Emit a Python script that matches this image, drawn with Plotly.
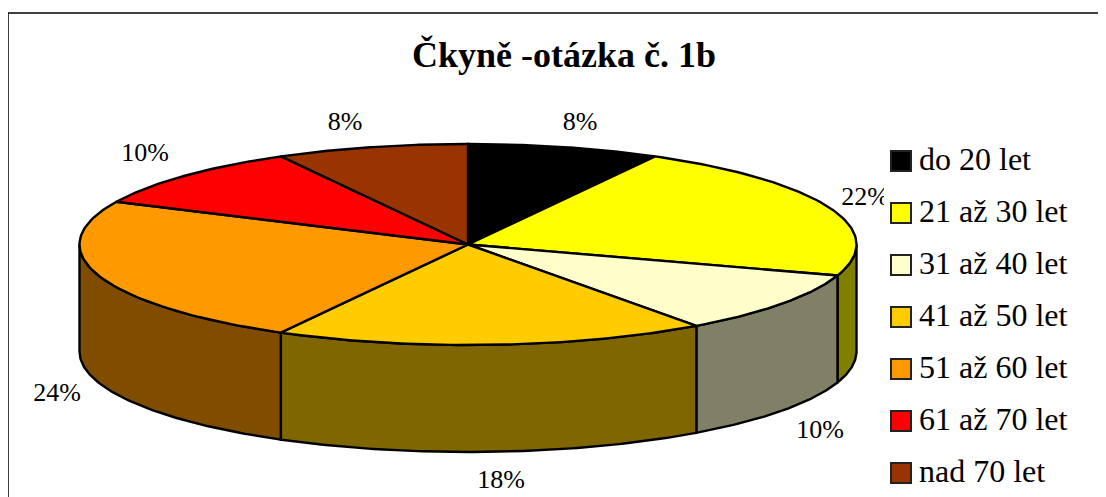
import numpy as np
import plotly.graph_objects as go

CATEGORIES = ["do 20 let", "21 až 30 let", "31 až 40 let", "41 až 50 let",
              "51 až 60 let", "61 až 70 let", "nad 70 let"]
VALUES = [8, 22, 10, 18, 24, 10, 8]
TOP_COLORS = ["#000000", "#ffff00", "#ffffcc", "#ffcc00", "#ff9900", "#ff0000", "#993300"]
SIDE_COLORS = ["#000000", "#808000", "#808066", "#806600", "#804d00", "#800000", "#4d1a00"]
TITLE = "Čkyně -otázka č. 1b"

# Pie geometry in page pixels
CX, CY, RX, RY, DEPTH = 468, 244.5, 388.5, 100.5, 107
LABEL_POS = [(580, 123), (865, 198), (820, 431), (501, 481), (57, 394), (145, 154), (345, 123)]
LEGEND_X, LEGEND_TEXT_X = 901, 919
LEGEND_Y = [161, 213, 265, 317, 369, 421, 473]
LEGEND_TEXT_DY = 1

W, H = 1106, 497
PAGE_MARGIN = 8  # the page body offsets the figure
edges = np.cumsum([0] + VALUES) / sum(VALUES) * 2 * np.pi


def rim(a0, a1, n=80):
    t = np.linspace(a0, a1, n)
    return CX + RX * np.sin(t), CY - RY * np.cos(t)


fig = go.Figure()
LINE = dict(color="black", width=2.4)


def poly(x, y, color):
    fig.add_trace(go.Scatter(x=x, y=y, mode="lines", fill="toself", fillcolor=color,
                             line=LINE, showlegend=False, hoverinfo="skip"))


# Side walls: only the part of the rim facing the viewer (90°..270°)
for i in range(len(VALUES)):
    a0, a1 = max(edges[i], np.pi / 2), min(edges[i + 1], 3 * np.pi / 2)
    if a1 <= a0:
        continue
    x, y = rim(a0, a1)
    poly(np.r_[x, x[::-1], x[0]], np.r_[y, y[::-1] + DEPTH, y[0]], SIDE_COLORS[i])

# Top slices
for i in range(len(VALUES)):
    x, y = rim(edges[i], edges[i + 1])
    poly(np.r_[CX, x, CX], np.r_[CY, y, CY], TOP_COLORS[i])

# Percent labels
fig.add_trace(go.Scatter(x=[p[0] for p in LABEL_POS], y=[p[1] for p in LABEL_POS],
                         mode="text", text=[f"{v}%" for v in VALUES],
                         textposition="middle center",
                         textfont=dict(family="Liberation Serif", size=26, color="black"),
                         showlegend=False, hoverinfo="skip"))

# Legend swatches and names
fig.add_trace(go.Scatter(x=[LEGEND_X] * len(CATEGORIES), y=LEGEND_Y, mode="markers",
                         marker=dict(symbol="square", size=20, color=TOP_COLORS,
                                     line=dict(color="#222222", width=2)),
                         showlegend=False, hoverinfo="skip"))
fig.add_trace(go.Scatter(x=[LEGEND_TEXT_X] * len(CATEGORIES),
                         y=[v + LEGEND_TEXT_DY for v in LEGEND_Y], mode="text",
                         text=CATEGORIES, textposition="middle right",
                         textfont=dict(family="Liberation Serif", size=32, color="black"),
                         showlegend=False, hoverinfo="skip"))

fw, fh = W - PAGE_MARGIN, H - PAGE_MARGIN
fig.update_layout(
    width=fw, height=fh, margin=dict(l=0, r=0, t=0, b=0, autoexpand=False), autosize=False,
    paper_bgcolor="white", plot_bgcolor="white", showlegend=False,
    xaxis=dict(range=[PAGE_MARGIN, W], visible=False, fixedrange=True),
    yaxis=dict(range=[H, PAGE_MARGIN], visible=False, fixedrange=True),
    title=dict(text=f"<b>{TITLE}</b>", x=(564 - PAGE_MARGIN) / fw, xanchor="center",
               y=1 - (54 - PAGE_MARGIN) / fh, yanchor="middle",
               font=dict(family="Liberation Serif", size=36, color="black")),
    shapes=[dict(type="line", x0=8, x1=8, y0=13, y1=H, line=dict(color="black", width=1.5)),
            dict(type="line", x0=8, x1=W, y0=13, y1=13, line=dict(color="black", width=1.5)),
            dict(type="rect", x0=884, x1=889, y0=180, y1=212, layer="above",
                 fillcolor="white", line=dict(width=0))],
)
fig.write_html("out.html")
